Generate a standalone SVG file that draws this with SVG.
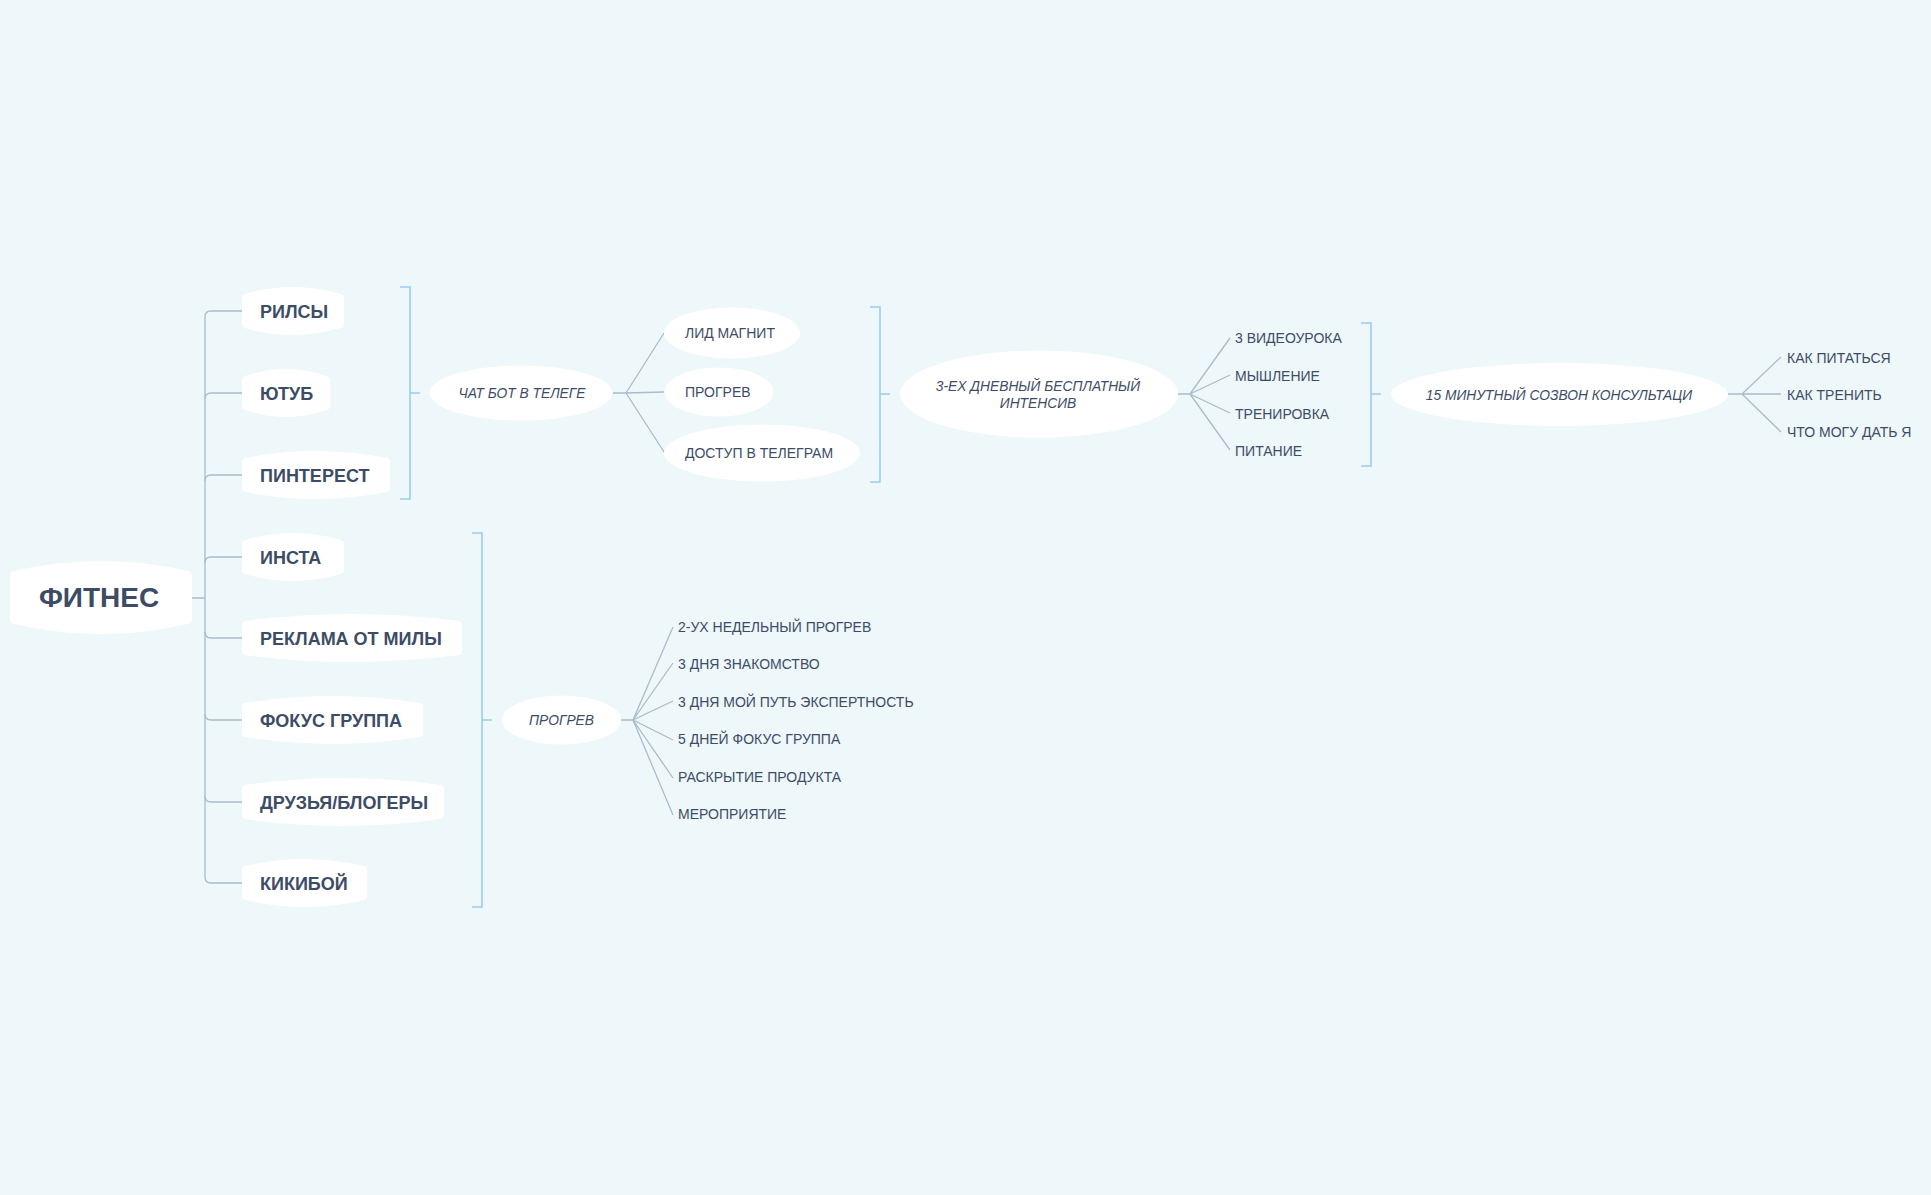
<svg xmlns="http://www.w3.org/2000/svg" width="1931" height="1195" viewBox="0 0 1931 1195">
<style>
.bg{fill:#eef7fa}
.node{fill:#ffffff}
.l1{font-family:"Liberation Sans",Arial,sans-serif;font-size:18px;font-weight:bold;fill:#3d4c66}
.root{font-family:"Liberation Sans",Arial,sans-serif;font-size:28px;font-weight:bold;fill:#3d4c66}
.it{font-family:"Liberation Sans",Arial,sans-serif;font-size:13.8px;font-style:italic;fill:#3d4c66}
.lf{font-family:"Liberation Sans",Arial,sans-serif;font-size:14px;fill:#3d4c66}
.tree{fill:none;stroke:#a9bccd;stroke-width:1.3}
.br{fill:none;stroke:#9ccdec;stroke-width:1.6}
</style>
<rect class="bg" x="0" y="0" width="1931" height="1195"/>
<g id="connectors">
<path class="tree" d="M192,598 H205 M205,317 V877"/>
<path class="tree" d="M205,317 Q205,311 211,311 H242"/>
<path class="tree" d="M205,399 Q205,393 211,393 H242"/>
<path class="tree" d="M205,481 Q205,475 211,475 H242"/>
<path class="tree" d="M205,563 Q205,557 211,557 H242"/>
<path class="tree" d="M205,632 Q205,638 211,638 H242"/>
<path class="tree" d="M205,714 Q205,720 211,720 H242"/>
<path class="tree" d="M205,796 Q205,802 211,802 H242"/>
<path class="tree" d="M205,877 Q205,883 211,883 H242"/>
<path class="br" d="M400,287 H410 V499 H400 M410,393 H420"/>
<path class="br" d="M472,533 H482 V907 H472 M482,720 H492"/>
<path class="br" d="M870,307 H880 V482 H870 M880,394 H890"/>
<path class="br" d="M1361,323 H1371 V466 H1361 M1371,394 H1381"/>
<path class="tree" d="M613,393 H626 M626,393 L664,333 M626,393 L664,392 M626,393 L664,452"/>
<path class="tree" d="M1178,394 H1190 M1190,394 L1230,338 M1190,394 L1230,375 M1190,394 L1230,413 M1190,394 L1230,450"/>
<path class="tree" d="M1728,394 H1742 M1742,394 L1781,357 M1742,394 L1781,394 M1742,394 L1781,432"/>
<path class="tree" d="M621,720 H633 M633,720 L673,627 M633,720 L673,663 M633,720 L673,701 M633,720 L673,740 M633,720 L673,778 M633,720 L673,815"/>
</g>
<g id="root">
<path class="node" d="M14,571 Q101,551 188,571 Q192,571.5 192,576 L192,619 Q192,623.5 188,624 Q101,644 14,624 Q10,623.5 10,619 L10,576 Q10,571.5 14,571 Z"/>
<text class="root" x="99" y="607" text-anchor="middle">ФИТНЕС</text>
</g>
<g id="n-rilsy">
<path class="node" d="M245,294 Q293,280 341,294 Q344,294.5 344,298 L344,324 Q344,327.5 341,328 Q293,342 245,328 Q242,327.5 242,324 L242,298 Q242,294.5 245,294 Z"/>
<text class="l1" x="260" y="318">РИЛСЫ</text>
</g>
<g id="n-yutub">
<path class="node" d="M245,376 Q286,362 327,376 Q330,376.5 330,380 L330,406 Q330,409.5 327,410 Q286,424 245,410 Q242,409.5 242,406 L242,380 Q242,376.5 245,376 Z"/>
<text class="l1" x="260" y="400">ЮТУБ</text>
</g>
<g id="n-pinterest">
<path class="node" d="M245,458 Q316,444 387,458 Q390,458.5 390,462 L390,488 Q390,491.5 387,492 Q316,506 245,492 Q242,491.5 242,488 L242,462 Q242,458.5 245,458 Z"/>
<text class="l1" x="260" y="482">ПИНТЕРЕСТ</text>
</g>
<g id="n-insta">
<path class="node" d="M245,540 Q293,526 341,540 Q344,540.5 344,544 L344,570 Q344,573.5 341,574 Q293,588 245,574 Q242,573.5 242,570 L242,544 Q242,540.5 245,540 Z"/>
<text class="l1" x="260" y="564">ИНСТА</text>
</g>
<g id="n-reklama">
<path class="node" d="M245,621 Q352,607 459,621 Q462,621.5 462,625 L462,651 Q462,654.5 459,655 Q352,669 245,655 Q242,654.5 242,651 L242,625 Q242,621.5 245,621 Z"/>
<text class="l1" x="260" y="645">РЕКЛАМА ОТ МИЛЫ</text>
</g>
<g id="n-fokus">
<path class="node" d="M245,703 Q332.5,689 420,703 Q423,703.5 423,707 L423,733 Q423,736.5 420,737 Q332.5,751 245,737 Q242,736.5 242,733 L242,707 Q242,703.5 245,703 Z"/>
<text class="l1" x="260" y="727">ФОКУС ГРУППА</text>
</g>
<g id="n-druzya">
<path class="node" d="M245,785 Q343,771 441,785 Q444,785.5 444,789 L444,815 Q444,818.5 441,819 Q343,833 245,819 Q242,818.5 242,815 L242,789 Q242,785.5 245,785 Z"/>
<text class="l1" x="260" y="809">ДРУЗЬЯ/БЛОГЕРЫ</text>
</g>
<g id="n-kikiboy">
<path class="node" d="M245,866 Q304.5,852 364,866 Q367,866.5 367,870 L367,896 Q367,899.5 364,900 Q304.5,914 245,900 Q242,899.5 242,896 L242,870 Q242,866.5 245,866 Z"/>
<text class="l1" x="260" y="890">КИКИБОЙ</text>
</g>
<g id="n-chatbot">
<ellipse class="node" cx="521" cy="393" rx="91.5" ry="27.5"/>
<text class="it" x="522" y="398" text-anchor="middle">ЧАТ БОТ В ТЕЛЕГЕ</text>
</g>
<g id="n-lid">
<ellipse class="node" cx="732" cy="333" rx="68" ry="25.5"/>
<text class="lf" x="685" y="338">ЛИД МАГНИТ</text>
</g>
<g id="n-progrev1">
<ellipse class="node" cx="719" cy="392" rx="54.5" ry="24.5"/>
<text class="lf" x="685" y="397">ПРОГРЕВ</text>
</g>
<g id="n-dostup">
<ellipse class="node" cx="762" cy="453" rx="98" ry="28.5"/>
<text class="lf" x="685" y="458">ДОСТУП В ТЕЛЕГРАМ</text>
</g>
<g id="n-intensiv">
<ellipse class="node" cx="1039" cy="394" rx="139" ry="43.5"/>
<text class="it" x="1038" y="391" text-anchor="middle">3-ЕХ ДНЕВНЫЙ БЕСПЛАТНЫЙ</text>
<text class="it" x="1038" y="408" text-anchor="middle">ИНТЕНСИВ</text>
</g>
<g id="n-video"><text class="lf" x="1235" y="343">3 ВИДЕОУРОКА</text></g>
<g id="n-myshlenie"><text class="lf" x="1235" y="381">МЫШЛЕНИЕ</text></g>
<g id="n-trenirovka"><text class="lf" x="1235" y="419">ТРЕНИРОВКА</text></g>
<g id="n-pitanie"><text class="lf" x="1235" y="456">ПИТАНИЕ</text></g>
<g id="n-sozvon">
<ellipse class="node" cx="1559.5" cy="394.5" rx="168.5" ry="31.5"/>
<text class="it" x="1559" y="400" text-anchor="middle">15 МИНУТНЫЙ СОЗВОН КОНСУЛЬТАЦИ</text>
</g>
<g id="n-kak-pitatsya"><text class="lf" x="1787" y="363">КАК ПИТАТЬСЯ</text></g>
<g id="n-kak-trenit"><text class="lf" x="1787" y="400">КАК ТРЕНИТЬ</text></g>
<g id="n-chto-mogu"><text class="lf" x="1787" y="437">ЧТО МОГУ ДАТЬ Я</text></g>
<g id="n-progrev2">
<ellipse class="node" cx="561.5" cy="720" rx="59.5" ry="24.5"/>
<text class="it" x="561.5" y="725" text-anchor="middle">ПРОГРЕВ</text>
</g>
<g id="n-2ух"><text class="lf" x="678" y="632">2-УХ НЕДЕЛЬНЫЙ ПРОГРЕВ</text></g>
<g id="n-3dnya"><text class="lf" x="678" y="669">3 ДНЯ ЗНАКОМСТВО</text></g>
<g id="n-3dnya-put"><text class="lf" x="678" y="707">3 ДНЯ МОЙ ПУТЬ ЭКСПЕРТНОСТЬ</text></g>
<g id="n-5dney"><text class="lf" x="678" y="744">5 ДНЕЙ ФОКУС ГРУППА</text></g>
<g id="n-raskrytie"><text class="lf" x="678" y="782">РАСКРЫТИЕ ПРОДУКТА</text></g>
<g id="n-meropriyatie"><text class="lf" x="678" y="819">МЕРОПРИЯТИЕ</text></g>
</svg>
